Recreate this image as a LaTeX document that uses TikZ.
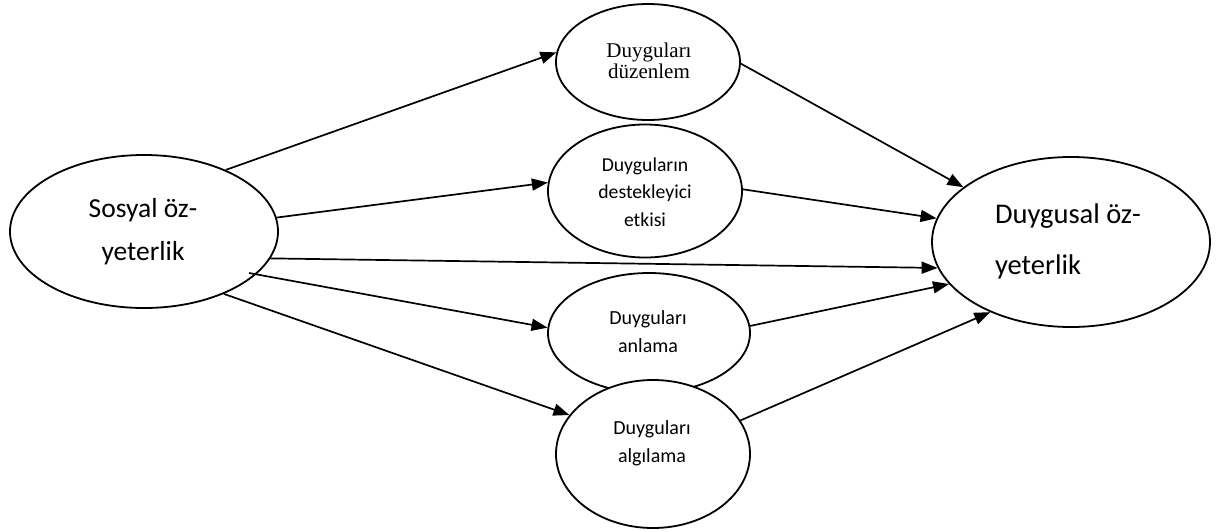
\documentclass[tikz,border=0pt]{standalone}
\usepackage{fontspec}
\setmainfont{Carlito}
\newfontfamily\tnr{Liberation Serif}
\usetikzlibrary{arrows.meta,shapes.geometric}
\tikzset{
  oval/.style={draw=black, line width=1.8pt, fill=white, ellipse, inner sep=0pt},
  lbl/.style={align=center, inner sep=0pt},
  conn/.style={line width=1.7pt, -{Triangle[length=16pt,width=12pt]}},
  bigtxt/.style={font=\fontsize{27.5pt}{43pt}\selectfont},
  smalltxt/.style={font=\fontsize{20pt}{28pt}\selectfont},
}
\begin{document}
\begin{tikzpicture}[x=1pt,y=-1pt]
\useasboundingbox[fill=white] (0,0) rectangle (1216,531);
% ellipses
\node[oval, minimum width=268pt, minimum height=153pt] (sos) at (144,231.5) {};
\node[oval, minimum width=184pt, minimum height=116pt] (duz) at (648,62) {};
\node[oval, minimum width=194pt, minimum height=133pt] (des) at (645,191) {};
\node[oval, minimum width=202pt, minimum height=120pt] (anl) at (649,333) {};
\node[oval, minimum width=194pt, minimum height=148pt] (alg) at (653,454) {};
\node[oval, minimum width=278pt, minimum height=170pt] (duy) at (1071,242) {};
% texts
\node[lbl, bigtxt] (tsos) at (143,232) {Sosyal öz-\\yeterlik};
\node[lbl, font=\fontsize{28.5pt}{51pt}\selectfont, align=left] (tduy) at (1068,241) {Duygusal öz-\\yeterlik};
\node[lbl, font=\tnr\fontsize{21pt}{21.5pt}\selectfont] (tduz) at (649,61) {Duyguları\\düzenlem};
\node[lbl, smalltxt, font=\fontsize{19.7pt}{27.5pt}\selectfont] (tdes) at (645,192) {Duyguların\\destekleyici\\etkisi};
\node[lbl, smalltxt] (tanl) at (648,332) {Duyguları\\anlama};
\node[lbl, smalltxt] (talg) at (652,443) {Duyguları\\algılama};
% connectors
\coordinate (s4) at ([shift={(105,41.5)}]sos.center);
\draw[conn] (sos.37) -- (duz.174);
\draw[conn] (sos.6) -- (des.175);
\draw[conn] (sos.348) -- (duy.191);
\draw[conn] (s4) -- (anl.177);
\draw[conn] (sos.322) -- (alg.155);
\draw[conn] (duz.359) -- (duy.153);
\draw[conn] (des.1) -- (duy.170);
\draw[conn] (anl.4) -- (duy.199);
\draw[conn] (alg.21) -- (duy.221);
\end{tikzpicture}
\end{document}
